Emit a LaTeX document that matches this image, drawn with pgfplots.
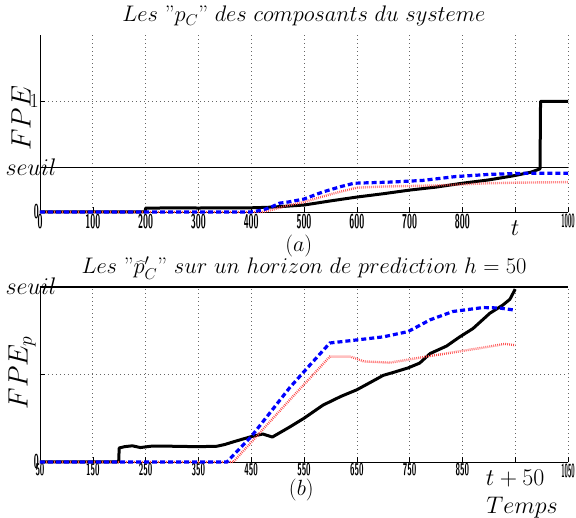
\RequirePackage{fix-cm}
\documentclass[border=0pt]{standalone}
\usepackage{graphicx}
\usepackage{pgfplots}
\pgfplotsset{compat=1.18}
\newcommand{\fs}[1]{\fontsize{#1}{#1}\selectfont}
\newcommand{\tl}[1]{\scalebox{0.45}[1]{\sffamily\bfseries\fs{20}#1}}
\newcommand{\bl}[1]{\scalebox{0.48}[1]{\sffamily\bfseries\fs{17}#1}}
\newcommand{\tlr}[1]{\scalebox{0.32}[1]{\sffamily\bfseries\fs{19}#1}}
\begin{document}
\begin{tikzpicture}
\pgfplotsset{
  common/.style={
    scale only axis, width=528pt,
    axis x line=bottom, axis y line=left, axis line style={-, black, line width=0.6pt},
    tick align=inside, major tick length=5pt, tick style={black, line width=0.5pt},
    xmajorgrids, ymajorgrids, grid style={black!60, line width=0.6pt, dash pattern=on 0.6pt off 3.4pt},
    xticklabel style={inner sep=1.5pt},
    yticklabel style={inner sep=1pt},
    clip=false,
  },
  blk/.style={black, line width=3pt, line join=round},
  blu/.style={blue, line width=3.2pt, dash pattern=on 5pt off 3pt},
  rd/.style={red!70, line width=2.4pt, dash pattern=on 0.8pt off 1.2pt},
}
% ---------- top axis ----------
\begin{axis}[common, name=top, at={(0,250pt)}, anchor=south west,
  height=177pt, xmin=0, xmax=1000, ymin=0, ymax=1.6,
  xtick={0,100,...,1000},
  xticklabels={\tl{0},\tl{100},\tl{200},\tl{300},\tl{400},\tl{500},\tl{600},\tl{700},\tl{800},{\raisebox{-7pt}[15pt]{\fs{24}$t$}},{\tlr{1000}\hspace{10pt}}},
  ytick={0,1}, yticklabels={\tl{0},{\fs{20}1}},
  title={\fs{22.5}$Les\ \mbox{''}p_C\mbox{''}\ des\ composants\ du\ systeme$},
  title style={at={(axis description cs:0.5,1)}, anchor=base, yshift=7pt, inner sep=0pt},
  ylabel={\fs{28}$FPE$},
  ylabel style={at={(axis description cs:-0.036,0.53)}, anchor=center, inner sep=0pt},
]
\addplot[black, line width=0.7pt] coordinates {(0,0.4) (1000,0.4)};
\addplot[blk] coordinates {(0,0) (199,0) (200,0.035) (250,0.037) (300,0.036) (350,0.037) (400,0.038) (430,0.042) (460,0.05) (500,0.063) (550,0.1) (600,0.135) (650,0.165) (700,0.198) (750,0.225) (800,0.26) (850,0.29) (900,0.33) (930,0.36) (947,0.39) (948,1) (1000,1)};
\addplot[rd] coordinates {(0,0) (420,0) (440,0.02) (470,0.06) (500,0.09) (550,0.16) (600,0.22) (650,0.23) (700,0.235) (750,0.24) (800,0.25) (850,0.26) (900,0.265) (1000,0.27)};
\addplot[blu] coordinates {(0,0) (400,0) (422,0.018) (438,0.045) (454,0.08) (470,0.09) (500,0.117) (535,0.18) (570,0.23) (595,0.26) (662,0.27) (724,0.285) (787,0.32) (851,0.34) (914,0.35) (1000,0.35)};
\node[anchor=base, inner sep=0pt] at (axis cs:0,0.4) [xshift=-9pt, yshift=-8pt] {\fs{24}$seuil$};
\node[anchor=base, inner sep=0pt] at (rel axis cs:0.49,0) [yshift=-40pt] {\fs{22}$(a)$};
\end{axis}
% ---------- bottom axis ----------
\begin{axis}[common, name=bot, at={(0,0)}, anchor=south west,
  height=175pt, xmin=50, xmax=1050, ymin=0, ymax=0.4,
  xtick={50,150,...,1050},
  xticklabels={\bl{50},\bl{150},\bl{250},\bl{350},\bl{450},\bl{550},\bl{650},\bl{750},\bl{850},{\raisebox{-6pt}[16pt]{\fs{24}$t+50$}},{\tlr{1050}\hspace{8pt}}},
  ytick={0,0.2}, yticklabels={\tl{0},{}},
  title={\fs{22.5}$Les\ \mbox{''}\widehat{p}'_C\mbox{''}\ sur\ un\ horizon\ de\ prediction\ h=50$},
  title style={at={(axis description cs:0.5,1)}, anchor=base, yshift=7pt, inner sep=0pt},
  ylabel={\fs{28}$FPE_p$},
  ylabel style={at={(axis description cs:-0.034,0.51)}, anchor=center, inner sep=0pt},
]
\addplot[black, line width=1.2pt] coordinates {(50,0.4) (1050,0.4)};
\addplot[blk] coordinates {(50,0) (199,0) (200,0.032) (210,0.035) (225,0.037) (240,0.033) (260,0.036) (300,0.036) (350,0.035) (385,0.036) (400,0.04) (416,0.046) (450,0.058) (472,0.064) (490,0.057) (523,0.08) (550,0.1) (586,0.13) (620,0.15) (650,0.165) (688,0.19) (700,0.198) (720,0.205) (747,0.215) (769,0.226) (789,0.248) (820,0.265) (845,0.286) (870,0.305) (902,0.34) (927,0.359) (940,0.372) (950,0.395)};
\addplot[rd] coordinates {(50,0) (416,0) (450,0.045) (480,0.085) (523,0.142) (560,0.19) (599,0.241) (638,0.241) (663,0.23) (713,0.227) (777,0.24) (840,0.252) (902,0.264) (930,0.27) (950,0.267)};
\addplot[blu] coordinates {(50,0) (404,0) (450,0.058) (480,0.104) (523,0.17) (560,0.22) (599,0.272) (650,0.279) (700,0.286) (747,0.298) (789,0.325) (832,0.344) (889,0.353) (920,0.352) (950,0.347)};
\node[anchor=base, inner sep=0pt] at (axis cs:50,0.4) [xshift=-9pt, yshift=-8pt] {\fs{24}$seuil$};
\node[anchor=base, inner sep=0pt] at (rel axis cs:0.495,0) [yshift=-34pt] {\fs{22}$(b)$};
\node[anchor=base, inner sep=0pt] at (rel axis cs:0.913,0) [yshift=-52pt] {\fs{24}$Temps$};
\end{axis}
\pgfresetboundingbox
\path[use as bounding box] (-40pt,-56pt) rectangle (536pt,462pt);
\end{tikzpicture}
\end{document}
